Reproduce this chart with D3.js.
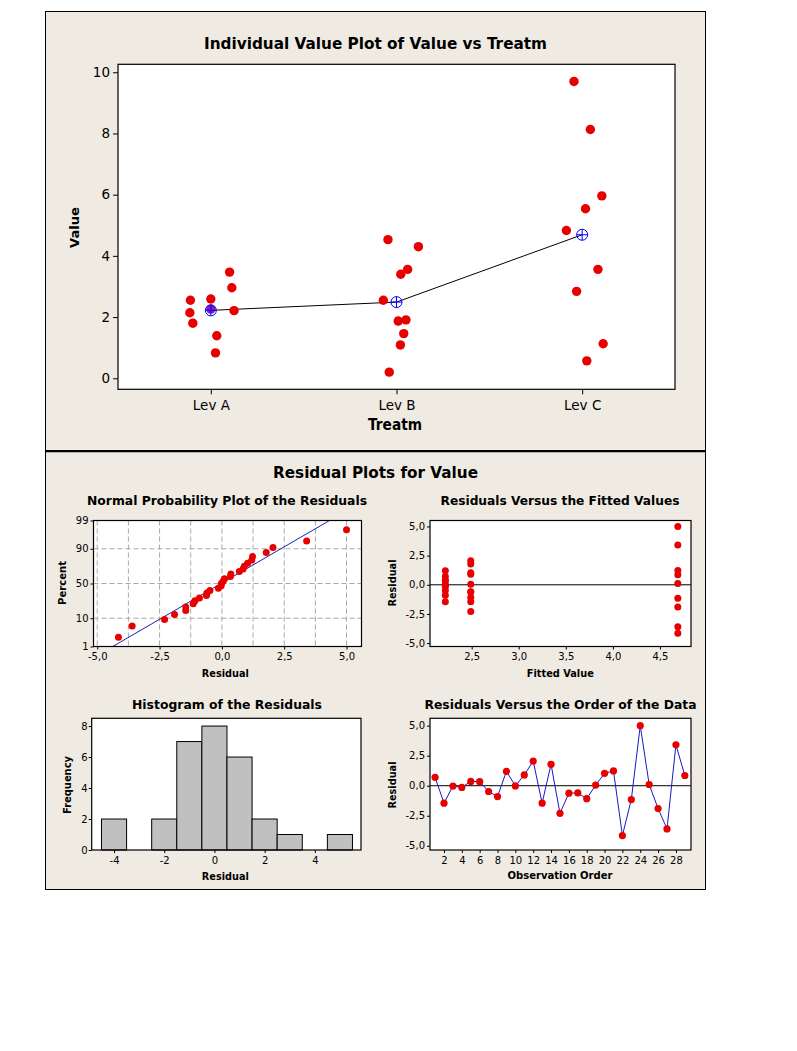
<!DOCTYPE html>
<html><head><meta charset="utf-8">
<script src="https://cdn.jsdelivr.net/npm/d3@7"></script>
<style>body{margin:0;background:#fff}svg{display:block}</style>
</head><body><svg id="c" width="797" height="1051"></svg>
<script>
// ---------------- data ----------------
const levels = ["Lev A", "Lev B", "Lev C"];
// observation order 1..29
const obsGroup = [0,0,0,0,0,0,0,0,0,0, 1,1,1,1,1,1,1,1,1,1, 2,2,2,2,2,2,2,2,2];
const obsValue = [2.96,0.83,2.21,2.14,2.59,2.55,1.80,1.39,3.47,2.26,
                  3.40,4.53,1.09,4.30,0.20,1.87,1.91,1.46,2.55,3.56,
                  5.96,0.57,3.56,9.70,4.83,2.84,1.13,8.13,5.54];
const obsJitter = [0.113,0.025,0.125,-0.113,0,-0.110,-0.097,0.032,0.101,0,
                   0.023,-0.046,0.021,0.118,-0.039,0.009,0.051,0.039,-0.071,0.060,
                   0.106,0.025,0.085,-0.044,-0.085,-0.030,0.113,0.044,0.018];
const groupMeans = [2.22, 2.49, 4.69];
const residuals = [0.70,-1.45,-0.03,-0.14,0.36,0.34,-0.48,-0.90,1.20,-0.02,
                   0.90,2.05,-1.45,1.78,-2.30,-0.62,-0.60,-1.08,0.05,1.03,
                   1.23,-4.15,-1.15,5.00,0.10,-1.90,-3.60,3.40,0.85];
const histCenters = [-4,-3,-2,-1,0,1,2,3,4,5];
const histCounts  = [2,0,2,7,8,6,2,1,0,1];
const valueTicks = [0,2,4,6,8,10];
const probTicks = [1,10,50,90,99];
const resTicksNP = [-5,-2.5,0,2.5,5];
const fitTicks = [2.5,3.0,3.5,4.0,4.5];
const resTicks = [-5,-2.5,0,2.5,5];
const histXTicks = [-4,-2,0,2,4];
const histYTicks = [0,2,4,6,8];
const orderTicks = [2,4,6,8,10,12,14,16,18,20,22,24,26,28];

// ---------------- helpers ----------------
const svg = d3.select("#c");
const BG = "#EFEBE2", RED = "#E80000", BLUE = "#0000FF";
const FONT = "DejaVu Sans";
const loc = d3.formatLocale({decimal:",", thousands:".", grouping:[3], currency:["",""], minus:"-"});
const f1 = loc.format(".1f"), fd = loc.format("d");

function qnorm(p){
  const a=[-3.969683028665376e+01,2.209460984245205e+02,-2.759285104469687e+02,1.383577518672690e+02,-3.066479806614716e+01,2.506628277459239e+00];
  const b=[-5.447609879822406e+01,1.615858368580409e+02,-1.556989798598866e+02,6.680131188771972e+01,-1.328068155288572e+01];
  const c=[-7.784894002430293e-03,-3.223964580411365e-01,-2.400758277161838e+00,-2.549732539343734e+00,4.374664141464968e+00,2.938163982698783e+00];
  const d=[7.784695709041462e-03,3.224671290700398e-01,2.445134137142996e+00,3.754408661907416e+00];
  const pl=0.02425, ph=1-pl; let q,r;
  if(p<pl){q=Math.sqrt(-2*Math.log(p));return (((((c[0]*q+c[1])*q+c[2])*q+c[3])*q+c[4])*q+c[5])/((((d[0]*q+d[1])*q+d[2])*q+d[3])*q+1);}
  if(p<=ph){q=p-0.5;r=q*q;return (((((a[0]*r+a[1])*r+a[2])*r+a[3])*r+a[4])*r+a[5])*q/(((((b[0]*r+b[1])*r+b[2])*r+b[3])*r+b[4])*r+1);}
  q=Math.sqrt(-2*Math.log(1-p));return -(((((c[0]*q+c[1])*q+c[2])*q+c[3])*q+c[4])*q+c[5])/((((d[0]*q+d[1])*q+d[2])*q+d[3])*q+1);
}

function txt(s, x, y, o={}){
  const t = svg.append("text")
    .attr("transform", `translate(${x},${y})` + (o.rotate ? ` rotate(${o.rotate})` : ""))
    .attr("text-anchor", o.anchor || "middle")
    .style("font-family", FONT).style("font-size", (o.size||11)+"px")
    .style("font-weight", o.weight||"normal").style("fill","#000").text(s);
  if (o.width) t.attr("textLength", o.width).attr("lengthAdjust","spacingAndGlyphs");
  return t;
}
function styleAxis(g, size){
  g.select(".domain").remove();
  g.selectAll(".tick line").attr("stroke","#000");
  g.selectAll(".tick text").style("font-family",FONT).style("font-size",size+"px").attr("fill","#000");
}
function frame(xs, ys){
  svg.append("rect").attr("x",xs.range()[0]).attr("y",ys.range()[1])
    .attr("width",xs.range()[1]-xs.range()[0]).attr("height",ys.range()[0]-ys.range()[1])
    .attr("fill","#fff");
}
function border(xs, ys){
  svg.append("rect").attr("x",xs.range()[0]).attr("y",ys.range()[1])
    .attr("width",xs.range()[1]-xs.range()[0]).attr("height",ys.range()[0]-ys.range()[1])
    .attr("fill","none").attr("stroke","#000").attr("stroke-width",1.2);
}

// ---------------- panels ----------------
svg.append("rect").attr("x",45.5).attr("y",11.5).attr("width",660).attr("height",878)
  .attr("fill",BG).attr("stroke","#000").attr("stroke-width",1);
svg.append("line").attr("x1",45.5).attr("x2",705.5).attr("y1",451.2).attr("y2",451.2)
  .attr("stroke","#000").attr("stroke-width",2.2);

// ---------------- individual value plot ----------------
const xT = d3.scaleLinear().domain([0.5,3.5]).range([118,675]);
const yT = d3.scaleLinear().domain([-0.36,10.26]).range([389.3,64.3]);
frame(xT,yT);
txt("Individual Value Plot of Value vs Treatm", 375.5, 49, {size:16, weight:"bold", width:343});
{
  const g = svg.append("g").attr("transform",`translate(118,0)`)
    .call(d3.axisLeft(yT).tickValues(valueTicks).tickSize(5).tickPadding(3));
  styleAxis(g, 13.5);
  const g2 = svg.append("g").attr("transform",`translate(0,389.3)`)
    .call(d3.axisBottom(xT).tickValues([1,2,3]).tickFormat(i=>levels[i-1]).tickSize(5).tickPadding(6));
  styleAxis(g2, 13.5);
}
txt("Value", 79, 227.5, {size:13, weight:"bold", rotate:-90, width:41});
txt("Treatm", 395, 430, {size:15, weight:600, width:54});
svg.append("path").datum(groupMeans)
  .attr("d", d3.line().x((m,i)=>xT(i+1)).y(m=>yT(m)))
  .attr("fill","none").attr("stroke","#000").attr("stroke-width",1);
svg.append("g").selectAll("circle").data(obsValue).join("circle")
  .attr("cx",(v,i)=>xT(obsGroup[i]+1+obsJitter[i])).attr("cy",v=>yT(v)).attr("r",4.7)
  .attr("fill",(v,i)=> (obsJitter[i]===0 && Math.abs(v-groupMeans[obsGroup[i]])<0.1) ? "#8A1BB0" : RED);
{
  const mg = svg.append("g").selectAll("g").data(groupMeans).join("g")
    .attr("transform",(m,i)=>`translate(${xT(i+1)},${yT(m)})`);
  const R = 5.5;
  mg.append("circle").attr("r",R).attr("fill","none").attr("stroke",BLUE).attr("stroke-width",1);
  mg.append("line").attr("x1",-R).attr("x2",R).attr("stroke",BLUE).attr("stroke-width",1);
  mg.append("line").attr("y1",-R).attr("y2",R).attr("stroke",BLUE).attr("stroke-width",1);
}
border(xT,yT);

// ---------------- residual plots ----------------
txt("Residual Plots for Value", 375.5, 478, {size:16, weight:"bold", width:205});

// Normal probability plot
const xN = d3.scaleLinear().domain([-5.15,5.6]).range([93.5,361.5]);
const yN = d3.scaleLinear().domain([qnorm(0.01), qnorm(0.99)]).range([646.5,520.5]);
frame(xN,yN);
txt("Normal Probability Plot of the Residuals", 227, 504.5, {size:13, weight:"bold", width:280});
{
  const grid = svg.append("g").attr("stroke","#A8A8A8").attr("stroke-dasharray","5,3").attr("stroke-width",1);
  grid.selectAll("line.v").data(d3.range(-5,5.01,1.25)).join("line").attr("class","v")
    .attr("x1",d=>xN(d)).attr("x2",d=>xN(d)).attr("y1",yN.range()[1]).attr("y2",yN.range()[0]);
  grid.selectAll("line.h").data(probTicks).join("line").attr("class","h")
    .attr("y1",p=>yN(qnorm(p/100))).attr("y2",p=>yN(qnorm(p/100))).attr("x1",xN.range()[0]).attr("x2",xN.range()[1]);
  const gx = svg.append("g").attr("transform","translate(0,646.5)")
    .call(d3.axisBottom(xN).tickValues(resTicksNP).tickFormat(f1).tickSize(3).tickPadding(3));
  styleAxis(gx, 10);
  const gy = svg.append("g").attr("transform","translate(93.5,0)")
    .call(d3.axisLeft(yN).tickValues(probTicks.map(p=>qnorm(p/100))).tickFormat((z,i)=>probTicks[i]).tickSize(3).tickPadding(2));
  styleAxis(gy, 10);
  const m = d3.mean(residuals), s = d3.deviation(residuals);
  const zr = yN.domain();
  svg.append("line").attr("x1",xN(m+s*zr[0])).attr("y1",yN(zr[0])).attr("x2",xN(m+s*zr[1])).attr("y2",yN(zr[1]))
    .attr("stroke","#2020B0").attr("stroke-width",1);
  const sorted = residuals.slice().sort(d3.ascending), n = sorted.length;
  svg.append("g").selectAll("circle").data(sorted).join("circle")
    .attr("cx",r=>xN(r)).attr("cy",(r,i)=>yN(qnorm((i+1-0.3)/(n+0.4)))).attr("r",3.5).attr("fill",RED);
}
border(xN,yN);
txt("Percent", 66, 583, {size:11, weight:"bold", rotate:-90, width:44});
txt("Residual", 225.3, 676.5, {size:11, weight:"bold", width:47});

// Residuals vs fitted
const xF = d3.scaleLinear().domain([2.057,4.83]).range([430,691]);
const yF = d3.scaleLinear().domain([-5.29,5.51]).range([646.5,520.5]);
frame(xF,yF);
txt("Residuals Versus the Fitted Values", 560, 504.5, {size:13, weight:"bold", width:239});
{
  const gx = svg.append("g").attr("transform","translate(0,646.5)")
    .call(d3.axisBottom(xF).tickValues(fitTicks).tickFormat(f1).tickSize(3).tickPadding(3));
  styleAxis(gx, 10);
  const gy = svg.append("g").attr("transform","translate(430,0)")
    .call(d3.axisLeft(yF).tickValues(resTicks).tickFormat(f1).tickSize(3).tickPadding(2));
  styleAxis(gy, 10);
  svg.append("line").attr("x1",430).attr("x2",691).attr("y1",yF(0)).attr("y2",yF(0)).attr("stroke","#000");
  svg.append("g").selectAll("circle").data(residuals).join("circle")
    .attr("cx",(r,i)=>xF(groupMeans[obsGroup[i]])).attr("cy",r=>yF(r)).attr("r",3.5).attr("fill",RED);
}
border(xF,yF);
txt("Residual", 395.5, 583, {size:11, weight:"bold", rotate:-90, width:47});
txt("Fitted Value", 560.3, 676.5, {size:11, weight:"bold", width:67});

// Histogram
const xH = d3.scaleLinear().domain([-4.89,5.84]).range([91.7,361]);
const yH = d3.scaleLinear().domain([0,8.5]).range([850,718.3]);
frame(xH,yH);
txt("Histogram of the Residuals", 227, 708.5, {size:13, weight:"bold", width:190});
{
  svg.append("g").selectAll("rect").data(histCounts).join("rect")
    .attr("x",(c,i)=>xH(histCenters[i]-0.5)).attr("width",(c,i)=>xH(histCenters[i]+0.5)-xH(histCenters[i]-0.5))
    .attr("y",c=>yH(c)).attr("height",c=>yH(0)-yH(c))
    .attr("fill","#C0C0C0").attr("stroke","#000").attr("stroke-width",1);
  const gx = svg.append("g").attr("transform","translate(0,850)")
    .call(d3.axisBottom(xH).tickValues(histXTicks).tickFormat(fd).tickSize(3).tickPadding(4));
  styleAxis(gx, 10);
  const gy = svg.append("g").attr("transform","translate(91.7,0)")
    .call(d3.axisLeft(yH).tickValues(histYTicks).tickFormat(fd).tickSize(3).tickPadding(1));
  styleAxis(gy, 10);
}
border(xH,yH);
txt("Frequency", 70.5, 785, {size:11, weight:"bold", rotate:-90, width:58});
txt("Residual", 225.3, 879.5, {size:11, weight:"bold", width:47});

// Residuals vs order
const xO = d3.scaleLinear().domain([0.43,29.69]).range([430,691]);
const yO = d3.scaleLinear().domain([-5.35,5.61]).range([850,718.3]);
frame(xO,yO);
txt("Residuals Versus the Order of the Data", 560.5, 708.5, {size:13, weight:"bold", width:272});
{
  const gx = svg.append("g").attr("transform","translate(0,850)")
    .call(d3.axisBottom(xO).tickValues(orderTicks).tickFormat(fd).tickSize(3).tickPadding(4));
  styleAxis(gx, 10);
  const gy = svg.append("g").attr("transform","translate(430,0)")
    .call(d3.axisLeft(yO).tickValues(resTicks).tickFormat(f1).tickSize(3).tickPadding(2));
  styleAxis(gy, 10);
  svg.append("line").attr("x1",430).attr("x2",691).attr("y1",yO(0)).attr("y2",yO(0)).attr("stroke","#000");
  svg.append("path").datum(residuals)
    .attr("d", d3.line().x((r,i)=>xO(i+1)).y(r=>yO(r)))
    .attr("fill","none").attr("stroke","#1818C8").attr("stroke-width",1);
  svg.append("g").selectAll("circle").data(residuals).join("circle")
    .attr("cx",(r,i)=>xO(i+1)).attr("cy",r=>yO(r)).attr("r",3.6).attr("fill",RED);
}
border(xO,yO);
txt("Residual", 395.5, 785, {size:11, weight:"bold", rotate:-90, width:47});
txt("Observation Order", 560, 878.5, {size:11, weight:"bold", width:105});
</script>
</body></html>
